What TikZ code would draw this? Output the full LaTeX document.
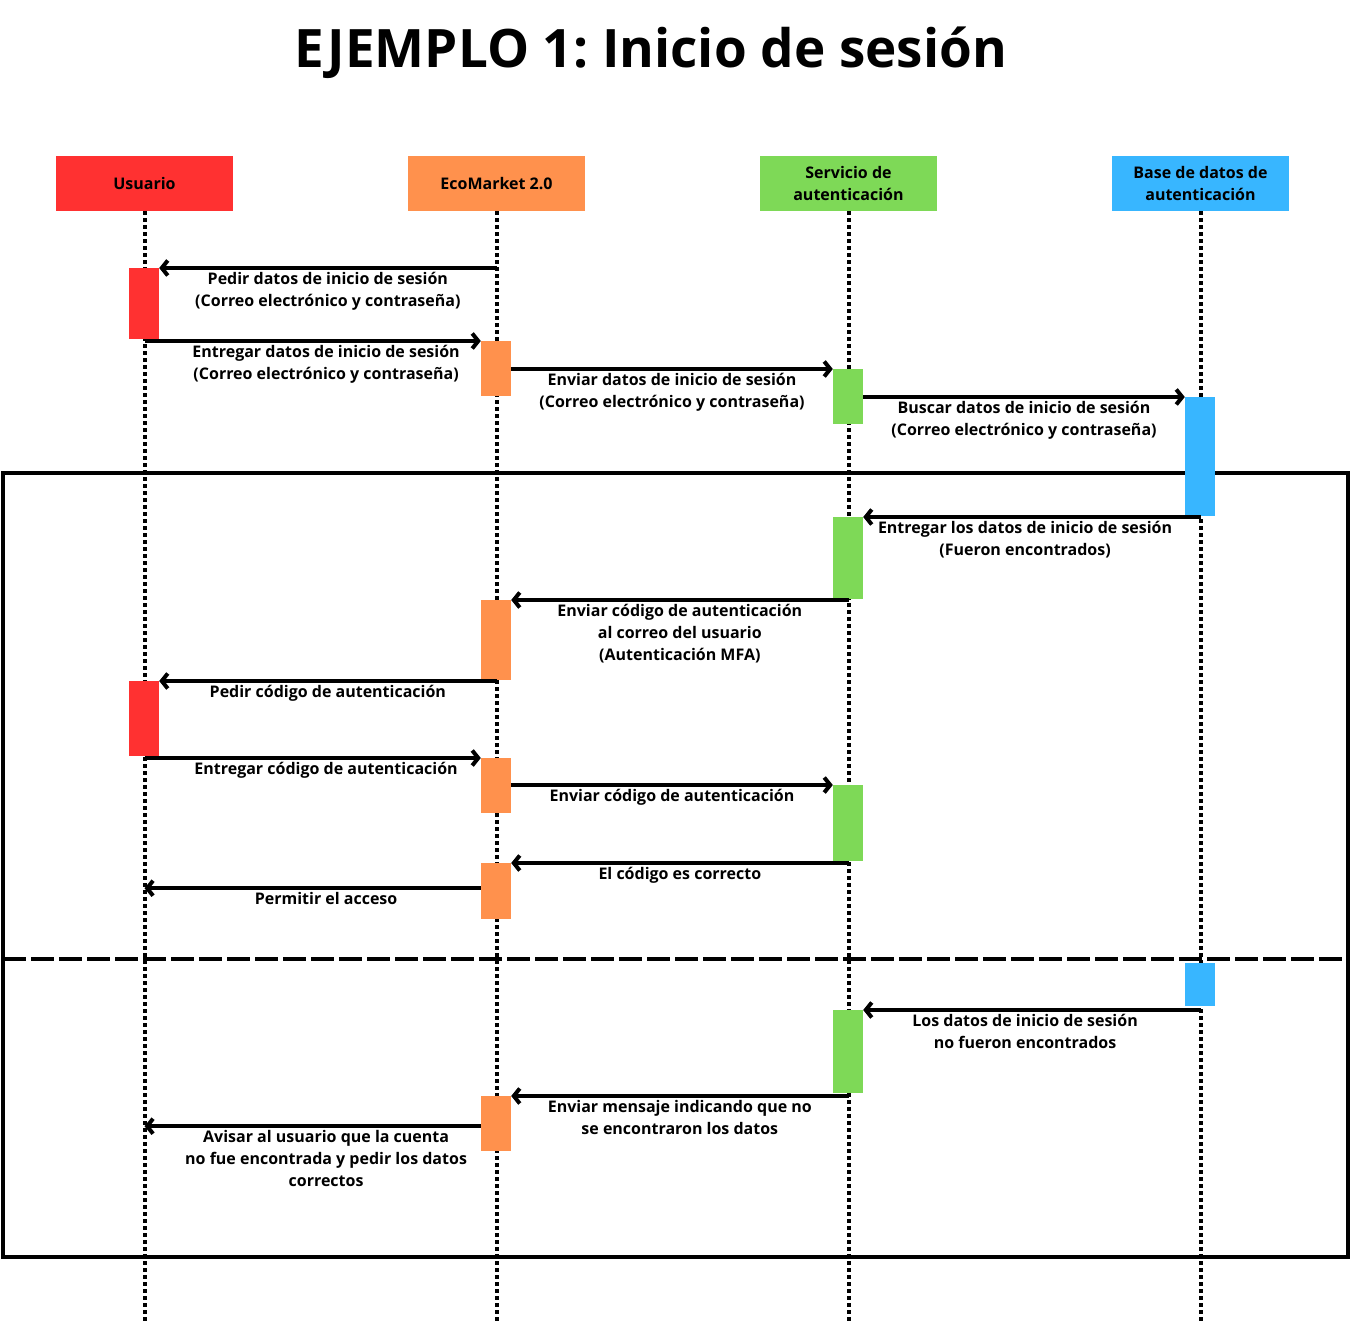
\documentclass[tikz,border=0pt]{standalone}
\usepackage{fontspec}
\setmainfont{Open Sans}
\newfontfamily\titlefont{Open Sans}
\usetikzlibrary{positioning,arrows.meta}
\frenchspacing

\definecolor{usucol}{HTML}{FF3131}
\definecolor{ecocol}{HTML}{FF914D}
\definecolor{servcol}{HTML}{7ED957}
\definecolor{bdcol}{HTML}{38B6FF}

\begin{document}
\begin{tikzpicture}[x=1pt,y=-1pt,node distance=352pt,on grid,
  >={Straight Barb[length=6pt,width=15pt]},
  header/.style={minimum width=177pt,minimum height=55pt,inner sep=0pt,align=center,font=\bfseries\fontsize{16}{22}\selectfont},
  act/.style={minimum width=30pt,inner sep=0pt,anchor=north},
  msg/.style={->,line width=4pt},
  lbl/.style={below,align=center,inner sep=2pt,font=\bfseries\fontsize{16}{22}\selectfont},
  lifeline/.style={line width=4pt,dash pattern=on 4pt off 3pt}]
\useasboundingbox (0,0) rectangle (1350,1321);

\node[font=\titlefont\bfseries\fontsize{53}{60}\selectfont] (titulo) at (651,53) {EJEMPLO 1: Inicio de sesión};

% participantes
\node[header,fill=usucol] (usu) at (144.5,183.5) {Usuario};
\node[header,fill=ecocol] (eco) [right=of usu] {EcoMarket 2.0};
\node[header,fill=servcol] (serv) [right=of eco] {Servicio de\\autenticación};
\node[header,fill=bdcol] (bd) [right=of serv] {Base de datos de\\autenticación};
\coordinate (fin) at (0,1321);
\foreach \n in {usu,eco,serv,bd}
  \draw[lifeline] (\n.south) -- (\n |- fin);

% marco alt
\draw[line width=4.5pt] (3,473) rectangle (1348,1257);
\draw[line width=4pt,dash pattern=on 23pt off 5pt] (3,959) -- (1350,959);

% activaciones
\node[act,fill=usucol,minimum height=71pt] (u_1) at (144,268) {};
\node[act,fill=ecocol,minimum height=55pt] (e_1) at (496,341) {};
\node[act,fill=servcol,minimum height=55pt] (s_1) at (848,369) {};
\node[act,fill=bdcol,minimum height=119pt] (b_1) at (1200,397) {};
\node[act,fill=servcol,minimum height=82pt] (s_2) at (848,517) {};
\node[act,fill=ecocol,minimum height=80pt] (e_2) at (496,600) {};
\node[act,fill=usucol,minimum height=75pt] (u_2) at (144,681) {};
\node[act,fill=ecocol,minimum height=55pt] (e_3) at (496,758) {};
\node[act,fill=servcol,minimum height=76pt] (s_3) at (848,785) {};
\node[act,fill=ecocol,minimum height=56pt] (e_4) at (496,863) {};
\node[act,fill=bdcol,minimum height=43pt] (b_2) at (1200,963) {};
\node[act,fill=servcol,minimum height=83pt] (s_4) at (848,1010) {};
\node[act,fill=ecocol,minimum height=55pt] (e_5) at (496,1096) {};
\coordinate (p_11) at ([yshift=3pt]e_4.west);
\coordinate (p_14) at ([yshift=-2.5pt]e_5.west);

% mensajes
\draw[msg] (eco |- u_1.north east) -- node[lbl] {Pedir datos de inicio de sesión\\(Correo electrónico y contraseña)} (u_1.north east);
\draw[msg] (usu |- e_1.north) -- node[lbl,pos=.54] {Entregar datos de inicio de sesión\\(Correo electrónico y contraseña)} (e_1.north west);
\draw[msg] (e_1.east |- s_1.north) -- node[lbl] {Enviar datos de inicio de sesión\\(Correo electrónico y contraseña)} (s_1.north west);
\draw[msg] (s_1.east |- b_1.north) -- node[lbl] {Buscar datos de inicio de sesión\\(Correo electrónico y contraseña)} (b_1.north west);
\draw[msg] (bd |- s_2.north) -- node[lbl,pos=.52] {Entregar los datos de inicio de sesión\\(Fueron encontrados)} (s_2.north east);
\draw[msg] (serv |- e_2.north) -- node[lbl] {Enviar código de autenticación\\al correo del usuario\\(Autenticación MFA)} (e_2.north east);
\draw[msg] (eco |- u_2.north) -- node[lbl] {Pedir código de autenticación} (u_2.north east);
\draw[msg] (usu |- e_3.north) -- node[lbl,pos=.54] {Entregar código de autenticación} (e_3.north west);
\draw[msg] (e_3.east |- s_3.north) -- node[lbl] {Enviar código de autenticación} (s_3.north west);
\draw[msg] (serv |- e_4.north) -- node[lbl] {El código es correcto} (e_4.north east);
\draw[msg] (p_11) -- node[lbl,pos=.46] {Permitir el acceso} (usu |- p_11);
\draw[msg] (bd |- s_4.north) -- node[lbl,pos=.52] {Los datos de inicio de sesión\\no fueron encontrados} (s_4.north east);
\draw[msg] (serv |- e_5.north) -- node[lbl] {Enviar mensaje indicando que no\\se encontraron los datos} (e_5.north east);
\draw[msg] (p_14) -- node[lbl,pos=.46] {Avisar al usuario que la cuenta\\no fue encontrada y pedir los datos\\correctos} (usu |- p_14);
\end{tikzpicture}
\end{document}
